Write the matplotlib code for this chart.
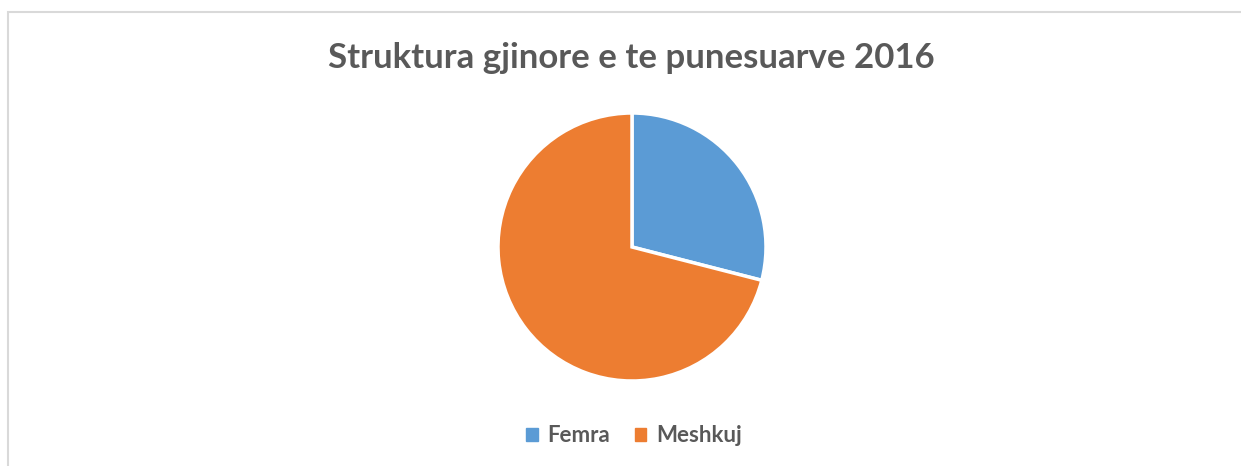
"""Pie chart: gender structure of the employed, 2016."""
import matplotlib
matplotlib.use("Agg")
import matplotlib.pyplot as plt
from matplotlib.patches import Rectangle

labels = ["Femra", "Meshkuj"]
shares = [29.0, 71.0]
colors = ["#5B9BD5", "#ED7D31"]
title = "Struktura gjinore e te punesuarve 2016"

W, H = 1241, 466
fig = plt.figure(figsize=(W / 100, H / 100), dpi=100)
fig.patch.set_facecolor("white")

# chart frame (only left and top edges fall inside the picture)
fig.add_artist(Rectangle((8 / W, -0.1), 1.2, (H - 12) / H + 0.1,
                         transform=fig.transFigure, fill=False,
                         edgecolor="#D9D9D9", linewidth=1.5))

fig.text(631 / W, 1 - 58 / H, title, ha="center", va="center",
         fontsize=25, fontweight="bold", color="#595959", family="Lato")

# pie: centre (632, 247), radius 134 px
r = 134
ax = fig.add_axes([(632 - r) / W, 1 - (247 + r) / H, 2 * r / W, 2 * r / H])
ax.pie(shares, colors=colors, startangle=90, counterclock=False,
       wedgeprops=dict(edgecolor="white", linewidth=2.5))
ax.set_xlim(-1, 1)
ax.set_ylim(-1, 1)
ax.set_aspect("equal")

handles = [Rectangle((0, 0), 1, 1, color=c) for c in colors]
leg = fig.legend(handles, labels, loc="center", bbox_to_anchor=(634 / W, 1 - 436 / H),
                 ncol=2, frameon=False, handlelength=0.5, handleheight=0.5,
                 handletextpad=0.45, columnspacing=1.1,
                 prop=dict(family="Lato", weight="bold", size=16))
for t in leg.get_texts():
    t.set_color("#595959")

fig.savefig("out.png", dpi=100)
